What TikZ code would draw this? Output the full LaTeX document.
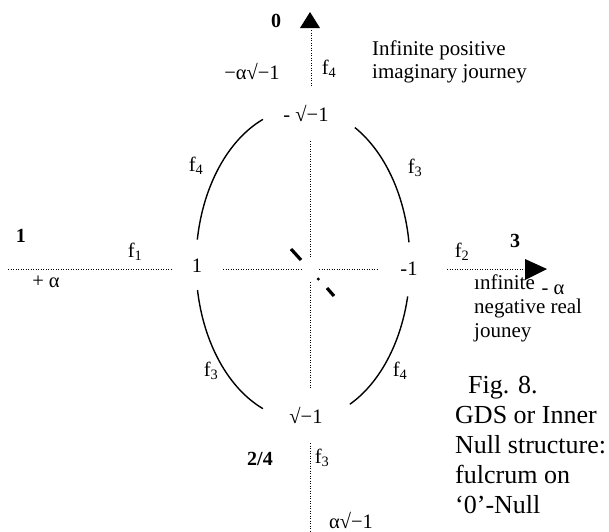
\documentclass[tikz,border=0pt]{standalone}
\usepackage{fontspec}
\setmainfont{Liberation Serif}
\begin{document}
\begin{tikzpicture}[x=1pt,y=1pt,
  lab/.style={inner sep=0pt, font=\fontsize{20.5}{23}\selectfont},
  blab/.style={lab, font=\fontsize{20}{23}\selectfont\bfseries},
  txt/.style={inner sep=0pt, anchor=base west, align=left},
  dotl/.style={line width=0.8pt, dash pattern=on 0.8pt off 1.7pt},
  arcl/.style={line width=1.4pt},
  tickl/.style={line width=3.2pt}]
\useasboundingbox (0,0) rectangle (609,-531);

% centre of the ellipse
\coordinate (c) at (303,-264);

% ellipse arcs
\draw[arcl] ([shift={(112:107 and 156)}]c) arc[start angle=112,end angle=171,x radius=107,y radius=156];
\draw[arcl] ([shift={(189.6:107 and 156)}]c) arc[start angle=189.6,end angle=248,x radius=107,y radius=156];
\draw[arcl] ([shift={(296:107 and 156)}]c) arc[start angle=296,end angle=348,x radius=107,y radius=156];
\draw[arcl] ([shift={(8:107 and 156)}]c) arc[start angle=8,end angle=61,x radius=107,y radius=156];

% dotted axes
\coordinate (t1) at (311,-30);  \coordinate (t2) at (311,-87);
\coordinate (u1) at (310,-141); \coordinate (u2) at (310,-258);
\coordinate (d1) at (310,-282); \coordinate (d2) at (310,-389);
\coordinate (b1) at (310,-443); \coordinate (b2) at (310,-531);
\coordinate (l1) at (8,-269);   \coordinate (l2) at (172,-269);
\coordinate (cl1) at (223,-269); \coordinate (cl2) at (302,-269);
\coordinate (cr1) at (319,-269); \coordinate (cr2) at (378,-269);
\coordinate (r1) at (447,-269); \coordinate (r2) at (527,-269);
\foreach \a/\b in {t1/t2,u1/u2,d1/d2,b1/b2,l1/l2,cl1/cl2,cr1/cr2,r1/r2}
  \draw[dotl] (\a) -- (\b);

% arrowheads
\coordinate (upTip) at (310,-12);
\coordinate (rightTip) at (547,-269);
\fill (upTip) -- (300,-28) -- (320,-28) -- cycle;
\fill (rightTip) -- (525,-259) -- (525,-280) -- cycle;

% thick ticks at the centre
\coordinate (k1) at (291,-249); \coordinate (k2) at (301,-260);
\coordinate (k3) at (327,-288); \coordinate (k4) at (334,-296);
\draw[tickl] (k1) -- (k2);
\draw[tickl] (k3) -- (k4);
\fill (318.3,-279) circle (1.7);

% labels
\node[blab] (n0) at (276,-21) {0};
\node[lab] (nma) at (252,-71) {−α√−1};
\node[lab] (nf4t) at (329,-69) {f\textsubscript{4}};
\node[lab] (ntop) at (306,-113) {- √−1};
\node[lab] (nf4ul) at (196,-166) {f\textsubscript{4}};
\node[lab] (nf3ur) at (415,-168) {f\textsubscript{3}};
\node[blab] (n1b) at (21,-236) {1};
\node[lab] (nf1) at (135,-252) {f\textsubscript{1}};
\node[lab] (npa) at (46,-282) {+ α};
\node[lab] (none) at (197,-266) {1};
\node[lab] (nmone) at (409,-269) {-1};
\node[lab] (nf2) at (462,-252) {f\textsubscript{2}};
\node[blab] (n3b) at (515,-241) {3};
\node[lab] (nf3ll) at (211,-371) {f\textsubscript{3}};
\node[lab] (nf4lr) at (400,-371) {f\textsubscript{4}};
\node[lab] (nbot) at (306,-415) {√−1};
\node[blab] (n24) at (260,-459) {2/4};
\node[lab] (nf3b) at (322,-458) {f\textsubscript{3}};
\node[lab] (nab) at (351,-520) {α√−1};

% text blocks (base = baseline of the last line)
\node[txt, font=\fontsize{21}{23}\selectfont] (jpos) at (372,-78) {Infinite positive\\imaginary journey};
\node[txt, font=\fontsize{21}{24}\selectfont] (jneg) at (474,-337) {ınfinite\\negative real\\jouney};
\node[lab] (nma2) at (553,-290) {- α};
\node[txt, font=\fontsize{26}{30}\selectfont] (cap) at (455,-513) {\hspace*{13pt}Fig. 8.\\GDS or Inner\\Null structure:\\fulcrum on\\‘0’-Null};
\end{tikzpicture}
\end{document}
